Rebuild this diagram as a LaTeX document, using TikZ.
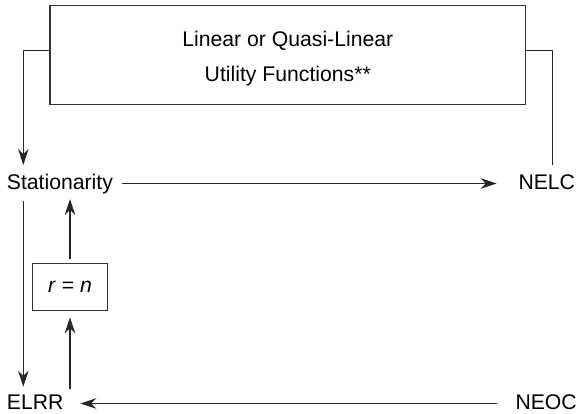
\documentclass[tikz,border=0pt]{standalone}
\usepackage{fontspec}
\setmainfont{Liberation Sans}
\usetikzlibrary{arrows.meta}
\begin{document}
\begin{tikzpicture}[x=1pt,y=-1pt,
  lbl/.style={inner sep=0pt, text height=15.5pt, text depth=4.5pt,
              font=\fontsize{21.2}{25}\selectfont},
  conn/.style={line width=1.15pt, draw=black!85},
  arr/.style={conn, -{Stealth[length=16pt,width=10.5pt,inset=5pt]}},
  plainbox/.style={draw=black!80, line width=1.1pt, inner sep=0pt}]
\useasboundingbox (0,0) rectangle (577,414);

% assumption box and its two-line caption
\node[plainbox, minimum width=475.7pt, minimum height=99pt] (util) at (287.8,55) {};
\node[lbl, anchor=base] (t1) at (287.8,47) {Linear or Quasi-Linear};
\node[lbl, anchor=base] (t2) at (287.8,81.7) {Utility Functions**};

% properties
\node[lbl, anchor=base west] (st)   at (6.7,189)   {Stationarity};
\node[lbl, anchor=base west] (nelc) at (518.3,189) {NELC};
\node[lbl, anchor=base west] (elrr) at (6.7,409)   {ELRR};
\node[lbl, anchor=base west] (neoc) at (515.3,409) {NEOC};
\node[plainbox, minimum width=75.4pt, minimum height=46.7pt,
      font=\fontsize{21.2}{25}\selectfont] (eq) at (70,286.7) {\textit{r} = \textit{n}};

% free connector ends
\coordinate (stin)   at (23.3,165);
\coordinate (nelcin) at (552.7,165);
\coordinate (lftop)  at (23.3,201);
\coordinate (lfbot)  at (23.3,386.7);
\coordinate (uptip)  at (70,199);
\coordinate (upfoot) at (70,389.3);

% connectors
\draw[arr]  ([yshift=4.3pt]util.west) -| (stin);
\draw[conn] ([yshift=4.3pt]util.east) -| (nelcin);
\draw[arr, shorten <=9pt, shorten >=21.6pt] (st.east) -- (nelc.west);
\draw[arr] (lftop) -- (lfbot);
\draw[arr] ([yshift=4pt]eq.north) -- (uptip);
\draw[arr] (upfoot) -- ([yshift=-6.7pt]eq.south);
\draw[arr, shorten <=18.6pt, shorten >=16.6pt] (neoc.west) -- (elrr.east);
\end{tikzpicture}
\end{document}
